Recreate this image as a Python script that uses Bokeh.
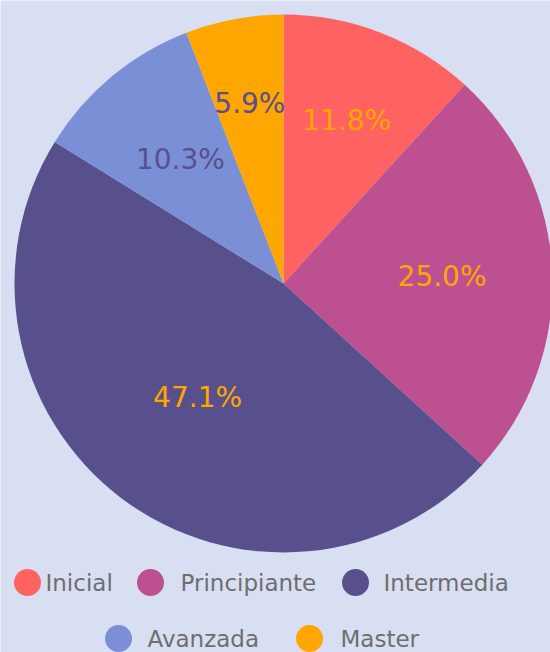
import math
from bokeh.plotting import figure
from bokeh.models import Range1d, ColumnDataSource
from bokeh.core.properties import value
from bokeh.embed import file_html
from bokeh.resources import INLINE

# ---- data ----
categories = ["Inicial", "Principiante", "Intermedia", "Avanzada", "Master"]
counts = [8, 17, 32, 7, 4]
colors = ["#ff6361", "#bc5090", "#58508d", "#7a8fd6", "#ffa600"]
label_colors = ["#ffa600", "#ffa600", "#ffa600", "#58508d", "#58508d"]

# ---- layout / style ----
BG = "#d9dff3"
W, H = 550, 652
CX, CY, R = 283, 369, 269
LABEL_FRAC = [0.65, 0.59, 0.53, 0.60, 0.68]   # radial placement of each slice label
FONT = "DejaVu Sans"

total = sum(counts)
starts, ends, lx, ly, labels = [], [], [], [], []
cum = 0.0
for c, lf in zip(counts, LABEL_FRAC):
    frac0 = cum / total
    cum += c
    frac1 = cum / total
    a0 = math.pi / 2 - frac0 * 2 * math.pi
    a1 = math.pi / 2 - frac1 * 2 * math.pi
    starts.append(a0)
    ends.append(a1)
    mid = (a0 + a1) / 2
    lx.append(CX + lf * R * math.cos(mid))
    ly.append(CY + lf * R * math.sin(mid))
    labels.append(f"{100 * c / total:.1f}%")

src = ColumnDataSource(dict(start=starts, end=ends, color=colors, lx=lx, ly=ly,
                            label=labels, lcolor=label_colors, cat=categories))

p = figure(width=W, height=H, x_range=Range1d(0, W), y_range=Range1d(0, H),
           output_backend="svg", toolbar_location=None, min_border=0)
p.axis.visible = False
p.grid.visible = False
p.outline_line_color = None
p.background_fill_color = BG
p.border_fill_color = BG

p.wedge(x=CX, y=CY, radius=R, start_angle="start", end_angle="end",
        direction="clock", fill_color="color", line_color=None, source=src)

p.text(x="lx", y="ly", text="label", text_color="lcolor", source=src,
       text_align="center", text_baseline="middle",
       text_font=value(FONT), text_font_size="28px")

# ---- legend (manual, wrapped in two rows) ----
leg_mx = [27, 150, 355, 118, 309]
leg_tx = [45, 180, 383, 147, 340]
leg_y = [70, 70, 70, 14, 14]
lsrc = ColumnDataSource(dict(mx=leg_mx, tx=leg_tx, y=leg_y, color=colors, cat=categories))
p.scatter(x="mx", y="y", size=27, marker="circle", fill_color="color",
          line_color=None, source=lsrc)
p.text(x="tx", y="y", text="cat", text_color="#6e6e6e", source=lsrc,
       text_align="left", text_baseline="middle",
       text_font=value(FONT), text_font_size="23px")

html = file_html(p, INLINE)
open("out.html", "w").write(html)
